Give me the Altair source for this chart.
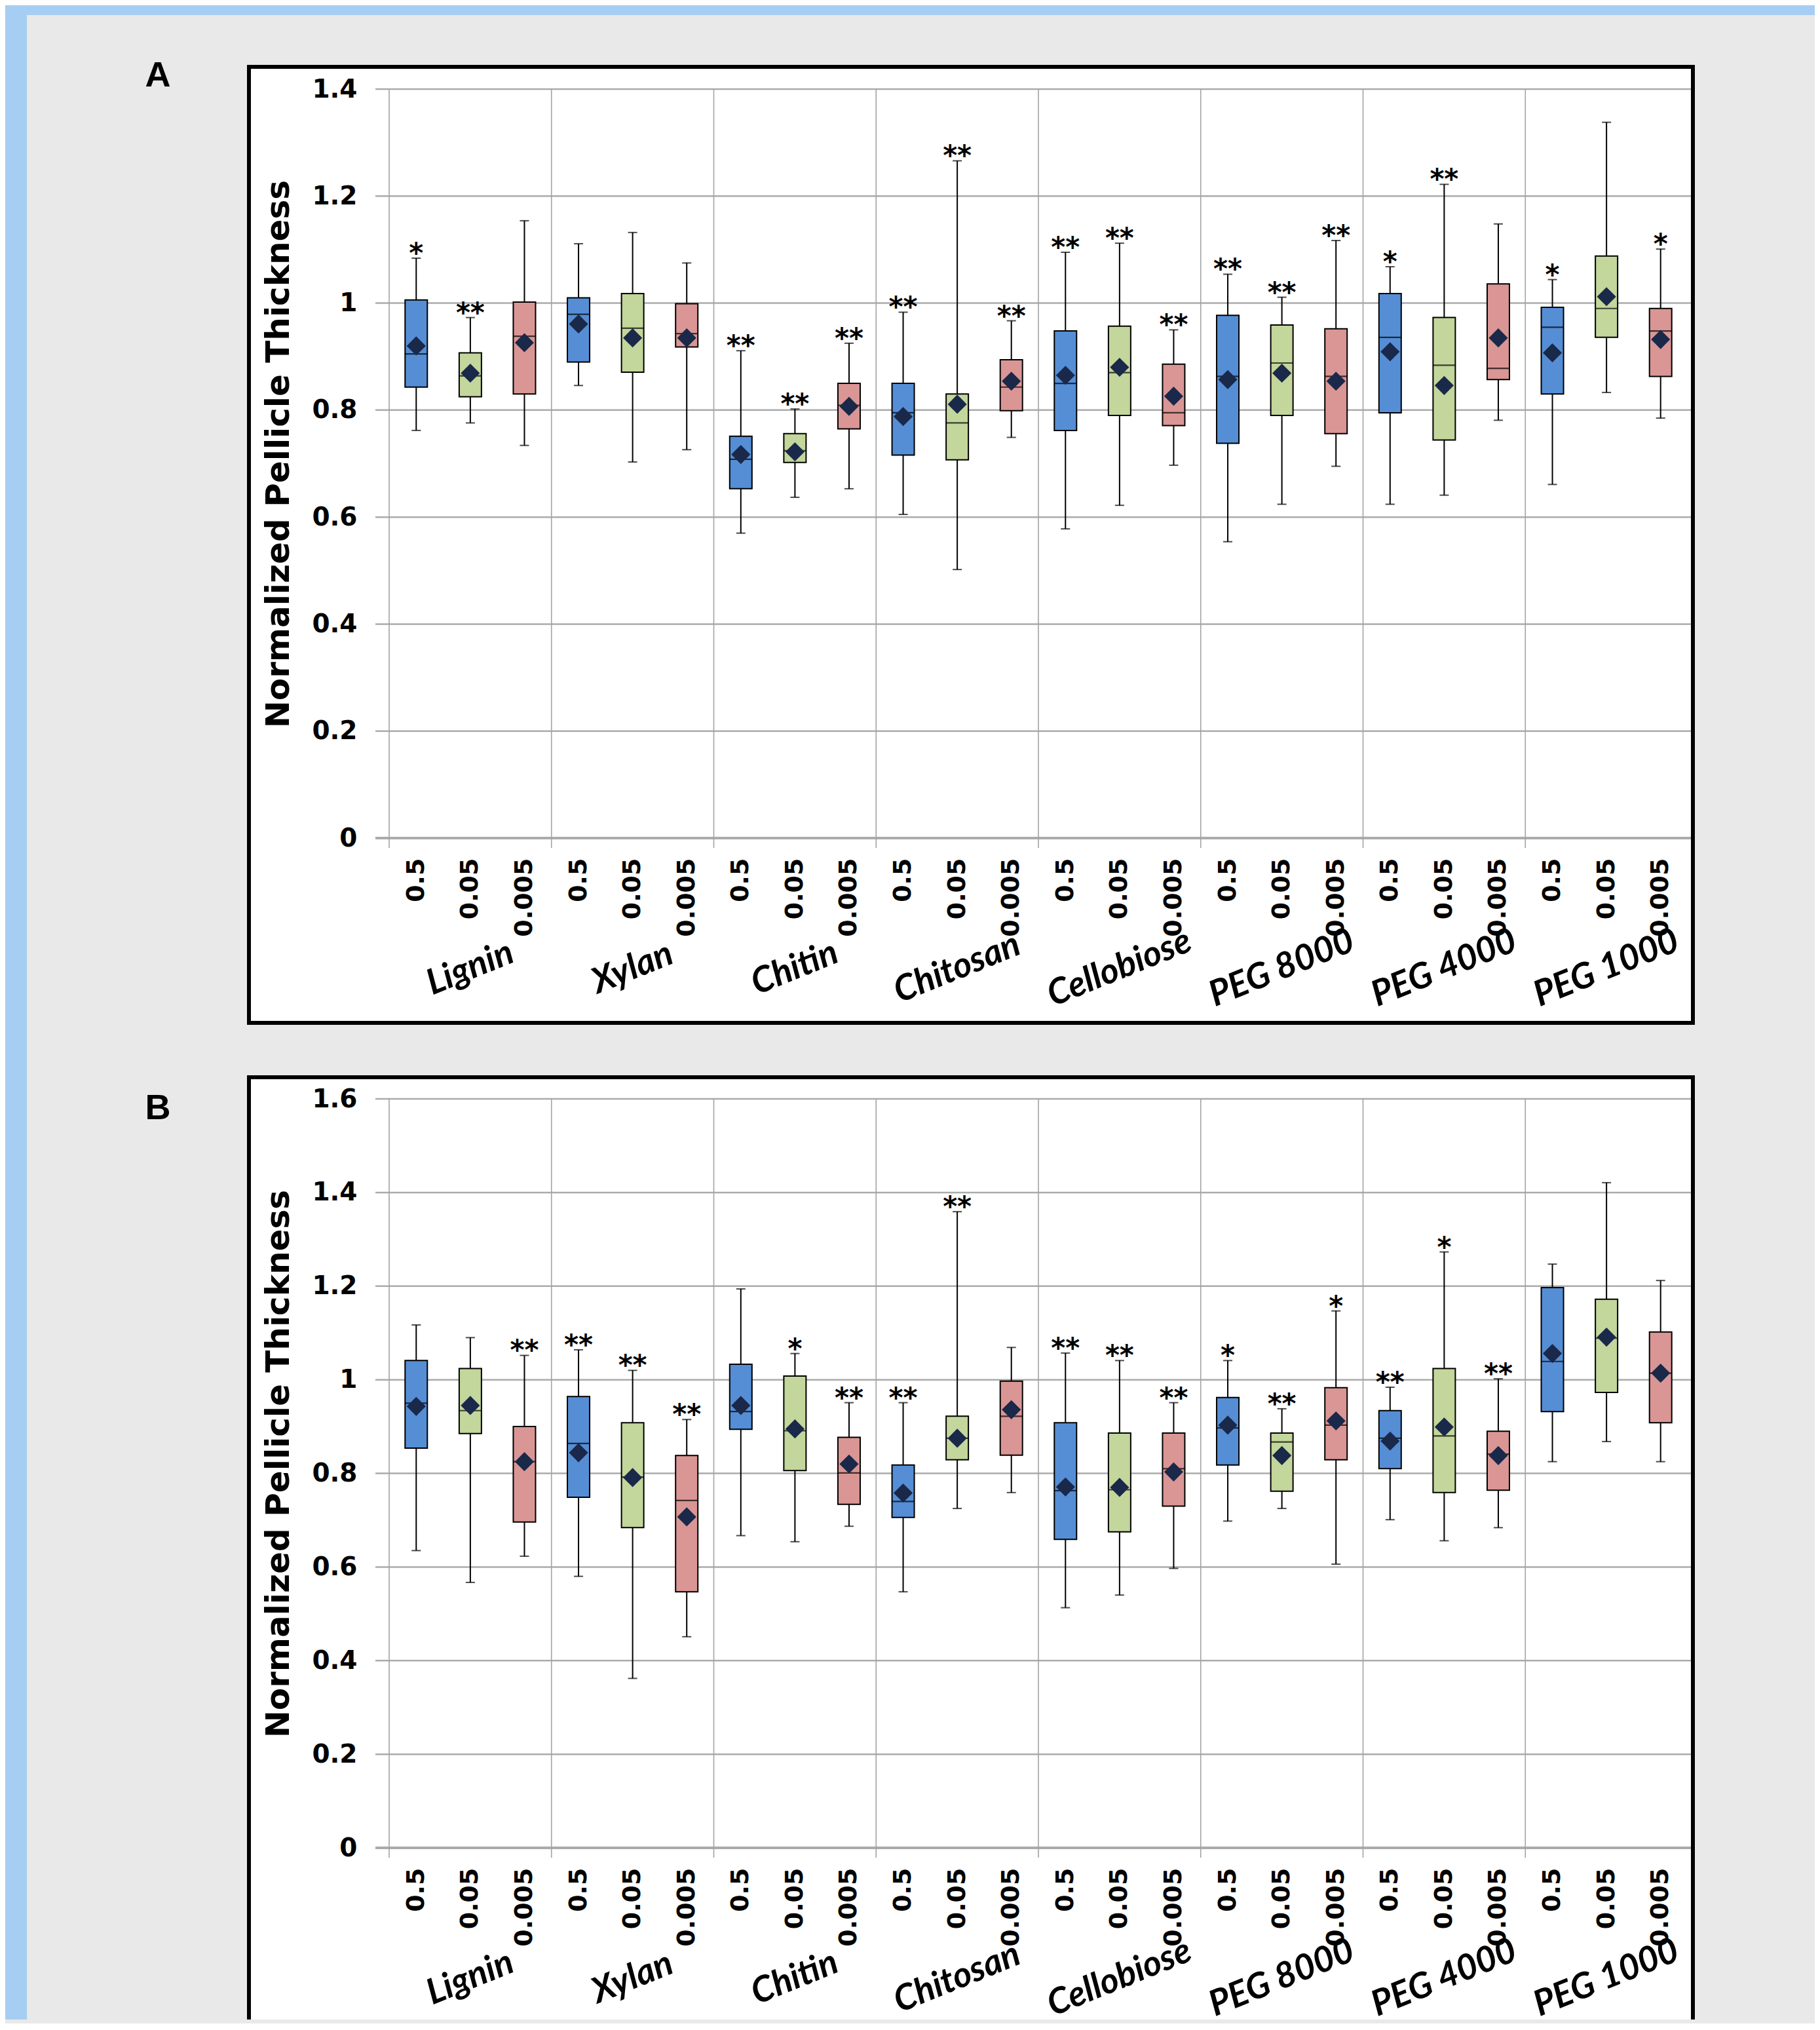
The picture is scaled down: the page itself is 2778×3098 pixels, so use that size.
import json
import altair as alt
import pandas as pd

# ---------------- data ----------------
substrates = ["Lignin", "Xylan", "Chitin", "Chitosan", "Cellobiose",
              "PEG 8000", "PEG 4000", "PEG 1000"]
concentrations = ["0.5", "0.05", "0.005"]
box_colors = ["#558ED5", "#C3D69B", "#D99694"]

# Panel A (24 boxes: substrate x concentration)
a_max = [1.084, 0.973, 1.154, 1.111, 1.132, 1.075, 0.911, 0.802, 0.925,
         0.983, 1.266, 0.967, 1.095, 1.112, 0.950, 1.054, 1.011, 1.117,
         1.068, 1.222, 1.148, 1.044, 1.338, 1.101]
a_q3 = [1.006, 0.907, 1.002, 1.010, 1.018, 0.999, 0.751, 0.756, 0.850,
        0.850, 0.830, 0.894, 0.948, 0.957, 0.886, 0.977, 0.959, 0.952,
        1.018, 0.973, 1.036, 0.992, 1.088, 0.990]
a_med = [0.905, 0.864, 0.938, 0.979, 0.953, 0.943, 0.708, 0.724, 0.809,
         0.795, 0.776, 0.843, 0.850, 0.870, 0.795, 0.863, 0.888, 0.863,
         0.936, 0.884, 0.878, 0.955, 0.990, 0.948]
a_mean = [0.920, 0.869, 0.926, 0.961, 0.935, 0.935, 0.717, 0.722, 0.807,
          0.788, 0.811, 0.854, 0.865, 0.880, 0.826, 0.857, 0.869, 0.854,
          0.909, 0.846, 0.935, 0.907, 1.012, 0.932]
a_q1 = [0.843, 0.825, 0.830, 0.890, 0.871, 0.918, 0.653, 0.702, 0.765,
        0.716, 0.707, 0.799, 0.762, 0.790, 0.771, 0.738, 0.790, 0.756,
        0.795, 0.744, 0.857, 0.830, 0.936, 0.863]
a_min = [0.762, 0.776, 0.734, 0.846, 0.703, 0.726, 0.570, 0.637, 0.653,
         0.605, 0.502, 0.749, 0.578, 0.622, 0.697, 0.554, 0.624, 0.695,
         0.624, 0.641, 0.781, 0.661, 0.833, 0.785]
a_sig = ["*", "**", "", "", "", "", "**", "**", "**", "**", "**", "**",
         "**", "**", "**", "**", "**", "**", "*", "**", "", "*", "", "*"]

# Panel B
b_max = [1.117, 1.090, 1.052, 1.064, 1.020, 0.915, 1.194, 1.056, 0.951,
         0.951, 1.359, 1.069, 1.057, 1.041, 0.951, 1.041, 0.938, 1.147,
         0.984, 1.273, 1.002, 1.247, 1.421, 1.212]
b_q3 = [1.041, 1.024, 0.900, 0.964, 0.908, 0.838, 1.033, 1.008, 0.877,
        0.818, 0.922, 0.997, 0.908, 0.886, 0.886, 0.962, 0.886, 0.983,
        0.934, 1.024, 0.890, 1.197, 1.172, 1.102]
b_med = [0.950, 0.934, 0.825, 0.864, 0.792, 0.742, 0.932, 0.891, 0.801,
         0.740, 0.875, 0.922, 0.763, 0.765, 0.810, 0.897, 0.867, 0.903,
         0.875, 0.880, 0.841, 1.039, 1.089, 1.014]
b_mean = [0.943, 0.945, 0.825, 0.844, 0.791, 0.707, 0.945, 0.895, 0.820,
          0.758, 0.875, 0.936, 0.771, 0.770, 0.803, 0.903, 0.838, 0.912,
          0.869, 0.899, 0.838, 1.056, 1.091, 1.014]
b_q1 = [0.854, 0.885, 0.696, 0.749, 0.684, 0.547, 0.894, 0.806, 0.734,
        0.706, 0.829, 0.839, 0.659, 0.675, 0.730, 0.818, 0.762, 0.829,
        0.810, 0.759, 0.764, 0.932, 0.973, 0.908]
b_min = [0.635, 0.567, 0.623, 0.580, 0.362, 0.451, 0.667, 0.654, 0.687,
         0.547, 0.725, 0.759, 0.513, 0.540, 0.597, 0.698, 0.725, 0.606,
         0.701, 0.656, 0.684, 0.825, 0.868, 0.825]
b_sig = ["", "", "**", "**", "**", "**", "", "*", "**", "**", "**", "",
         "**", "**", "**", "*", "**", "*", "**", "*", "**", "", "", ""]

a_yticks = [0, 0.2, 0.4, 0.6, 0.8, 1.0, 1.2, 1.4]
b_yticks = [0, 0.2, 0.4, 0.6, 0.8, 1.0, 1.2, 1.4, 1.6]
y_title = "Normalized Pellicle Thickness"

# ---------------- style / layout ----------------
BLUE_BG = "#a6cef2"
GRAY_BG = "#e8e9e8"
GRID = "#ababab"
NAVY = "#1a2849"
TICK_FONT = "DejaVu Sans"
W, H = 1992, 1143
OX = 589            # plot left in page coordinates
A_TOP, B_TOP = 136, 1677
PAGE_R, PAGE_B = 2770, 3082

n_cat = len(substrates) * len(concentrations)
cat_pos = [i + 0.5 for i in range(n_cat)]
group_bounds = [3 * j for j in range(len(substrates))]
group_centers = [3 * j + 1.5 for j in range(len(substrates))]
xscale = alt.Scale(domain=[0, n_cat], nice=False, zero=False)
one = pd.DataFrame({"k": [0]})


def panel(letter, ymax, yticks, mins, q1s, meds, q3s, maxs, means, sigs,
          top, with_bg):
    px = lambda X: X - OX
    py = lambda Y: Y - top
    yscale = alt.Scale(domain=[0, ymax], nice=False, zero=True)
    df = pd.DataFrame({
        "pos": cat_pos,
        "conc": [concentrations[i % 3] for i in range(n_cat)],
        "group": [substrates[i // 3] for i in range(n_cat)],
        "mn": mins, "q1": q1s, "med": meds, "q3": q3s, "mx": maxs,
        "mean": means, "sig": sigs,
    })
    layers = []
    if with_bg:
        layers.append(alt.Chart(one).mark_rect(color=BLUE_BG).encode(
            x=alt.value(px(8)), x2=alt.value(px(PAGE_R)),
            y=alt.value(py(8)), y2=alt.value(py(PAGE_B))))
        layers.append(alt.Chart(one).mark_rect(color=GRAY_BG).encode(
            x=alt.value(px(41)), x2=alt.value(px(PAGE_R)),
            y=alt.value(py(23)), y2=alt.value(py(PAGE_B))))
    fb = 1564 if letter == "A" else PAGE_B
    wb = 1558 if letter == "A" else PAGE_B
    ft = 99 if letter == "A" else 1641
    layers.append(alt.Chart(one).mark_rect(color="black").encode(
        x=alt.value(px(377)), x2=alt.value(px(2587)),
        y=alt.value(py(ft)), y2=alt.value(py(fb))))
    layers.append(alt.Chart(one).mark_rect(color="white").encode(
        x=alt.value(px(383)), x2=alt.value(px(2581)),
        y=alt.value(py(ft + 6)), y2=alt.value(py(wb))))
    # panel letter
    layers.append(alt.Chart(one).mark_text(
        font="Liberation Sans", fontWeight="bold", fontSize=54,
        align="center", baseline="middle", color="black").encode(
        x=alt.value(px(241)), y=alt.value(py(top - 20 if letter == "A" else top + 15)),
        text=alt.value(letter)))
    # horizontal gridlines
    hg = pd.DataFrame({"v": [t for t in yticks if t > 0]})
    layers.append(alt.Chart(hg).mark_rule(color=GRID, strokeWidth=2.5).encode(
        y=alt.Y("v:Q", scale=yscale, axis=None),
        x=alt.value(-16), x2=alt.value(W)))
    zg = pd.DataFrame({"v": [yticks[0]]})
    layers.append(alt.Chart(zg).mark_rule(color=GRID, strokeWidth=4).encode(
        y=alt.Y("v:Q", scale=yscale, axis=None),
        x=alt.value(-16), x2=alt.value(W)))
    # vertical gridlines at group boundaries
    vg = pd.DataFrame({"b": group_bounds})
    layers.append(alt.Chart(vg).mark_rule(color="#a3a3a3", strokeWidth=1.6).encode(
        x=alt.X("b:Q", scale=xscale, axis=None),
        y=alt.value(0), y2=alt.value(H + 15)))
    # whiskers
    layers.append(alt.Chart(df).mark_rule(color="black", strokeWidth=2).encode(
        x=alt.X("pos:Q", scale=xscale, axis=None),
        y=alt.Y("mn:Q", scale=yscale, axis=None), y2="mx:Q"))
    for f in ["mx", "mn"]:
        layers.append(alt.Chart(df).mark_tick(
            orient="horizontal", size=14, thickness=2, color="black").encode(
            x=alt.X("pos:Q", scale=xscale, axis=None),
            y=alt.Y(f + ":Q", scale=yscale, axis=None)))
    # boxes (carry the axes)
    label_expr = "%s[floor(datum.value) %% 3]" % json.dumps(concentrations)
    layers.append(alt.Chart(df).mark_bar(
        size=34, stroke="black", strokeWidth=2, orient="vertical").encode(
        x=alt.X("pos:Q", scale=xscale, axis=alt.Axis(
            orient="bottom",
            values=cat_pos, labelExpr=label_expr, labelAngle=270,
            labelAlign="right", labelBaseline="middle", labelPadding=30,
            labelFont=TICK_FONT, labelFontSize=38, labelFontWeight="bold",
            labelColor="black", labelOverlap=False, labelFlush=False,
            ticks=False, tickSize=0, domain=False, grid=False, title=None,
            zindex=1)),
        y=alt.Y("q1:Q", scale=yscale, axis=alt.Axis(
            orient="left",
            values=yticks, format="~g", labelFont=TICK_FONT, labelFontSize=39,
            labelFontWeight="bold", labelColor="black", labelPadding=44,
            labelOverlap=False, labelFlush=False,
            ticks=False, tickSize=0, domain=False, grid=False,
            title=y_title, titleFont=TICK_FONT, titleFontSize=50,
            titleFontWeight="bold", titleColor="black", titleAngle=270,
            titleAlign="center", titleBaseline="middle",
            titleX=px(425), titleY=H / 2 - 15, zindex=1)),
        y2="q3:Q",
        color=alt.Color("conc:N", scale=alt.Scale(domain=concentrations,
                                                   range=box_colors),
                        legend=None)))
    # medians
    layers.append(alt.Chart(df).mark_tick(
        orient="horizontal", size=34, thickness=2.2, color="black").encode(
        x=alt.X("pos:Q", scale=xscale, axis=None),
        y=alt.Y("med:Q", scale=yscale, axis=None)))
    # means
    layers.append(alt.Chart(df).mark_point(
        shape="diamond", filled=True, size=850, color=NAVY, opacity=1).encode(
        x=alt.X("pos:Q", scale=xscale, axis=None),
        y=alt.Y("mean:Q", scale=yscale, axis=None)))
    # significance stars
    layers.append(alt.Chart(df).transform_filter("datum.sig != ''").mark_text(
        font=TICK_FONT, fontSize=42, fontWeight="bold", color="black",
        align="center", baseline="alphabetic", dy=7).encode(
        x=alt.X("pos:Q", scale=xscale, axis=None),
        y=alt.Y("mx:Q", scale=yscale, axis=None),
        text="sig:N"))
    # substrate group labels
    gdf = pd.DataFrame({"gc": group_centers, "name": substrates})
    layers.append(alt.Chart(gdf).mark_text(
        font="Lato", fontSize=54, fontWeight="bold", fontStyle="italic",
        color="black", angle=338, align="center", baseline="middle").encode(
        x=alt.X("gc:Q", scale=xscale, axis=None),
        y=alt.value(H + 199), text="name:N"))
    return alt.layer(*layers).resolve_axis(
        x="independent", y="independent").properties(width=W, height=H)


pa = panel("A", 1.4, a_yticks, a_min, a_q1, a_med, a_q3, a_max, a_mean, a_sig,
           A_TOP, True)
pb = panel("B", 1.6, b_yticks, b_min, b_q1, b_med, b_q3, b_max, b_mean, b_sig,
           B_TOP, False)

chart = alt.vconcat(pa, pb, spacing=B_TOP - (A_TOP + H), bounds="flush").properties(
    padding=0, background=GRAY_BG
).configure_view(stroke=None)

chart.save("out.html", embed_options={"renderer": "svg", "actions": False})
